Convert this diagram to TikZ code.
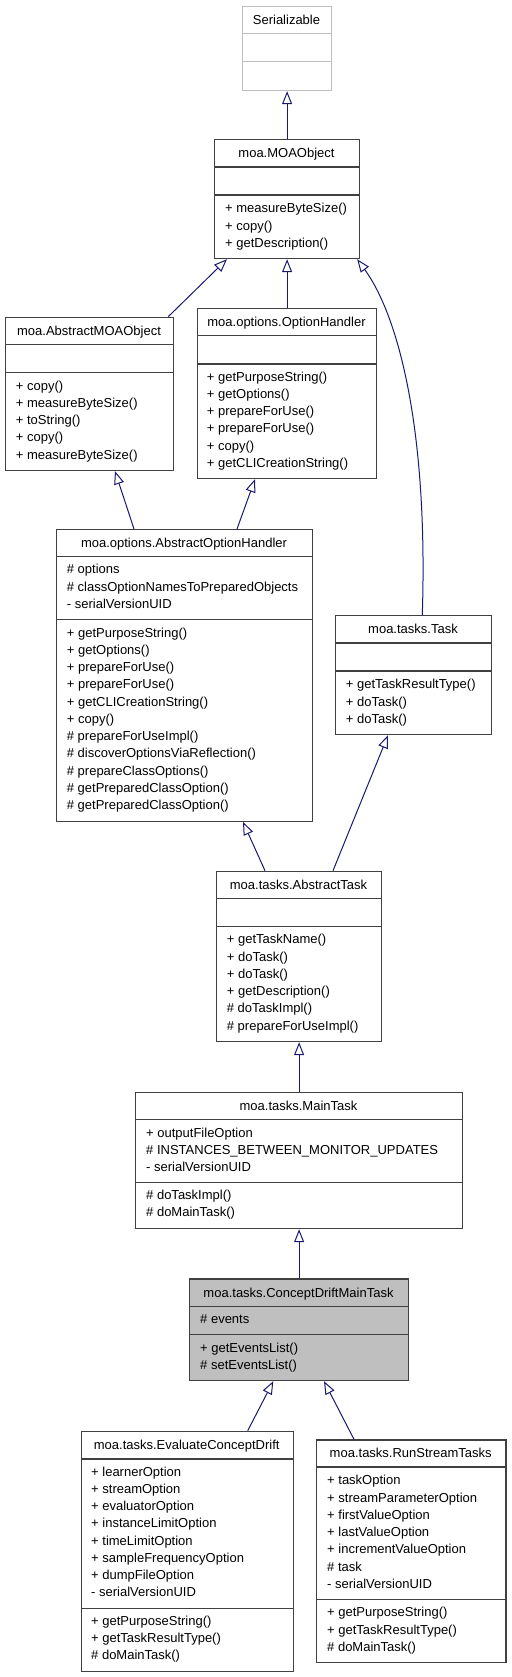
\documentclass[tikz,border=0pt]{standalone}
\usepackage{fontspec}
\setmainfont{Liberation Sans}
\usetikzlibrary{arrows.meta,calc}
\definecolor{edgeblue}{HTML}{191970}
\definecolor{boxline}{HTML}{404040}
\definecolor{cdfill}{HTML}{BFBFBF}
\definecolor{sergray}{HTML}{BFBFBF}
\tikzset{
  classbox/.style={draw=boxline, line width=1.2pt, rectangle, inner sep=0pt, anchor=north west},
  seprule/.style={draw=boxline, line width=1.2pt},
  txt/.style={inner sep=0pt, font=\fontsize{13}{15}\selectfont, text=black},
  inherit/.style={draw=edgeblue, line width=1pt, -{Triangle[open, length=13pt, width=10pt, fill=white]}},
}
% [style]{name}{x}{y}{w}{h}{sep1}{sep2}{title}
\newcommand\umlclass[9][]{%
  \node[classbox, minimum width=#5pt, minimum height=#6pt, #1] (#2) at (#3,#4) {};
  \draw[seprule, #1] (#3,#7) -- ++(#5,0);
  \draw[seprule, #1] (#3,#8) -- ++(#5,0);
  \node[txt, anchor=base] (#2-title) at ({#3+#5/2}, {(#4+#7)/2+4.5}) {#9};
}
% {name}{prefix}{x}{first centre y}{list}
\newcommand\umlitems[5]{%
  \foreach \t [count=\i from 0] in {#5}
    \node[txt, anchor=base west] (#1-#2\i) at (#3, {#4+17.25*\i+4.5}) {\t};
}
\begin{document}
\begin{tikzpicture}[x=1pt, y=-1pt]
\useasboundingbox (0,0) rectangle (511,1677);

\umlclass[draw=sergray]{ser}{242}{6}{89}{84}{33.5}{61.7}{Serializable}

\umlclass{moa}{214}{139}{145}{119}{167}{195}{moa.MOAObject}
\umlitems{moa}{m}{225}{208.3}{+ measureByteSize(),+ copy(),+ getDescription()}

\umlclass{amo}{5}{316.7}{168}{153.3}{344.3}{372.7}{moa.AbstractMOAObject}
\umlitems{amo}{m}{15.7}{385.7}{+ copy(),+ measureByteSize(),+ toString(),+ copy(),+ measureByteSize()}

\umlclass{oh}{197}{308}{179}{170}{335.7}{364}{moa.options.OptionHandler}
\umlitems{oh}{m}{206.7}{376.7}{+ getPurposeString(),+ getOptions(),+ prepareForUse(),+ prepareForUse(),+ copy(),+ getCLICreationString()}

\umlclass{aoh}{56}{529}{256}{291.7}{556.7}{619.3}{moa.options.AbstractOptionHandler}
\umlitems{aoh}{a}{66.7}{569.3}{\# options,\# classOptionNamesToPreparedObjects,- serialVersionUID}
\umlitems{aoh}{m}{66.7}{632.7}{+ getPurposeString(),+ getOptions(),+ prepareForUse(),+ prepareForUse(),+ getCLICreationString(),+ copy(),\# prepareForUseImpl(),\# discoverOptionsViaReflection(),\# prepareClassOptions(),\# getPreparedClassOption(),\# getPreparedClassOption()}

\umlclass{task}{335}{615}{156}{119}{643}{671}{moa.tasks.Task}
\umlitems{task}{m}{345.7}{684.3}{+ getTaskResultType(),+ doTask(),+ doTask()}

\umlclass{at}{216}{870.7}{165}{170.3}{898.3}{926.7}{moa.tasks.AbstractTask}
\umlitems{at}{m}{226.7}{939.3}{+ getTaskName(),+ doTask(),+ doTask(),+ getDescription(),\# doTaskImpl(),\# prepareForUseImpl()}

\umlclass{mt}{135}{1091.7}{327}{136.3}{1119.3}{1182.7}{moa.tasks.MainTask}
\umlitems{mt}{a}{146}{1132.7}{+ outputFileOption,\# INSTANCES\_BETWEEN\_MONITOR\_UPDATES,- serialVersionUID}
\umlitems{mt}{m}{146}{1195}{\# doTaskImpl(),\# doMainTask()}

\umlclass[fill=cdfill]{cd}{189}{1278.3}{219}{101.7}{1306.7}{1334.3}{moa.tasks.ConceptDriftMainTask}
\umlitems{cd}{a}{200}{1319.3}{\# events}
\umlitems{cd}{m}{200}{1347.7}{+ getEventsList(),\# setEventsList()}

\umlclass{ecd}{80.7}{1430.7}{212}{240}{1459}{1608.3}{moa.tasks.EvaluateConceptDrift}
\umlitems{ecd}{a}{91}{1471.7}{+ learnerOption,+ streamOption,+ evaluatorOption,+ instanceLimitOption,+ timeLimitOption,+ sampleFrequencyOption,+ dumpFileOption,- serialVersionUID}
\umlitems{ecd}{m}{91}{1620.7}{+ getPurposeString(),+ getTaskResultType(),\# doMainTask()}

\umlclass{rst}{316}{1439.3}{189.3}{222.7}{1467}{1599.3}{moa.tasks.RunStreamTasks}
\umlitems{rst}{a}{327}{1480.3}{+ taskOption,+ streamParameterOption,+ firstValueOption,+ lastValueOption,+ incrementValueOption,\# task,- serialVersionUID}
\umlitems{rst}{m}{327}{1612.3}{+ getPurposeString(),+ getTaskResultType(),\# doMainTask()}

% inheritance connectors
\draw[inherit] (moa.north) -- (ser.south);
\draw[inherit] ([xshift=-6pt]amo.north east) -- ([xshift=13pt]moa.south west);
\draw[inherit] (oh.north) -- (moa.south);
\draw[inherit] ([xshift=8.7pt]task.north) .. controls +(6,-190) and +(40,55) .. ([xshift=-3pt]moa.south east);
\draw[inherit] ([xshift=78pt]aoh.north west) -- ([xshift=110pt]amo.south west);
\draw[inherit] ([xshift=181pt]aoh.north west) -- ([xshift=58pt]oh.south west);
\draw[inherit] ([xshift=49pt]at.north west) -- ([xshift=187pt]aoh.south west);
\draw[inherit] ([xshift=117pt]at.north west) -- ([xshift=53pt]task.south west);
\draw[inherit] (mt.north) -- (at.south);
\draw[inherit] (cd.north) -- (mt.south);
\draw[inherit] ([xshift=167pt]ecd.north west) -- ([xshift=84.3pt]cd.south west);
\draw[inherit] ([xshift=38pt]rst.north west) -- ([xshift=135pt]cd.south west);
\end{tikzpicture}
\end{document}
